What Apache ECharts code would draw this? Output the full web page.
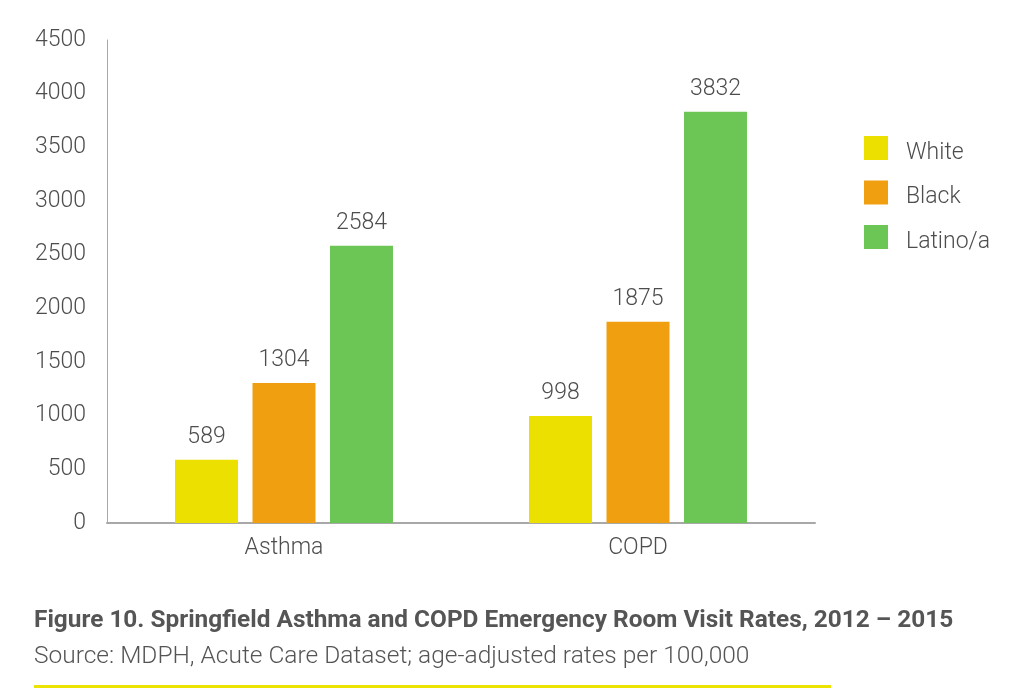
<!DOCTYPE html>
<html>
<head>
<meta charset="utf-8">
<script src="https://cdn.jsdelivr.net/npm/echarts@6/dist/echarts.min.js"></script>
<style>
html,body{margin:0;padding:0;background:#fff;}
#chart{width:1024px;height:695px;}
</style>
</head>
<body>
<div id="chart"></div>
<script>
const categories = ['Asthma', 'COPD'];
const whiteValues = [589, 998];
const blackValues = [1304, 1875];
const latinoValues = [2584, 3832];
const seriesNames = ['White', 'Black', 'Latino/a'];
const titleText = 'Figure 10. Springfield Asthma and COPD Emergency Room Visit Rates, 2012 \u2013 2015';
const sourceText = 'Source: MDPH, Acute Care Dataset; age-adjusted rates per 100,000';

const colors = ['#ECE000', '#F09F10', '#6CC655'];
const font = 'Roboto, "Noto Sans", sans-serif';
const txtColor = '#4d4d4d';

const chart = echarts.init(document.getElementById('chart'));
const labelStyle = {show: true, position: 'top', distance: 11, fontSize: 23, fontWeight: 300, color: txtColor, fontFamily: font};
function mk(name, data, i) {
  return {name: name, type: 'bar', data: data, barWidth: 63, barGap: '23%',
    itemStyle: {color: colors[i]}, label: labelStyle};
}
chart.setOption({
  animation: false,
  textStyle: {fontFamily: font},
  grid: {left: 107, right: 209, top: 40, bottom: 172, containLabel: false},
  legend: {
    orient: 'vertical', left: 859, top: 131, itemWidth: 24, itemHeight: 24, itemGap: 16,
    icon: 'rect',
    formatter: '{a|{name}}',
    textStyle: {fontSize: 23, fontWeight: 300, color: txtColor, fontFamily: font,
      rich: {a: {fontSize: 23, fontWeight: 300, color: txtColor, fontFamily: font, padding: [10, 0, 0, 13]}}},
    data: seriesNames
  },
  xAxis: {
    type: 'category', data: categories,
    axisLine: {lineStyle: {color: '#a8a8a8', width: 2}},
    axisTick: {show: false},
    axisLabel: {fontSize: 23, fontWeight: 300, color: txtColor, margin: 14, fontFamily: font}
  },
  yAxis: {
    type: 'value', min: 0, max: 4500, interval: 500,
    axisLine: {show: true, lineStyle: {color: '#a8a8a8', width: 1}},
    axisTick: {show: false},
    splitLine: {show: false},
    axisLabel: {fontSize: 23, fontWeight: 300, color: txtColor, margin: 21, fontFamily: font,
      formatter: function (v) { return String(v); }}
  },
  series: [mk(seriesNames[0], whiteValues, 0), mk(seriesNames[1], blackValues, 1), mk(seriesNames[2], latinoValues, 2)],
  graphic: [
    {type: 'text', left: 34, top: 609, style: {text: titleText, fontSize: 24.4, fontWeight: 'bold', fill: '#555555', fontFamily: font}},
    {type: 'text', left: 34, top: 644, style: {text: sourceText, fontSize: 24.5, fontWeight: 300, fill: '#555555', fontFamily: font}},
    {type: 'rect', left: 34, top: 685, shape: {width: 797, height: 3}, style: {fill: '#EDE300'}}
  ]
});
</script>
</body>
</html>
